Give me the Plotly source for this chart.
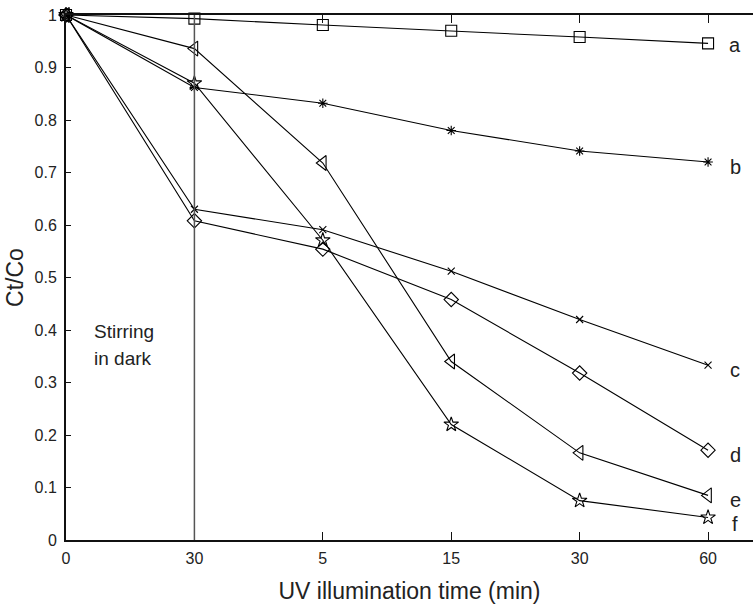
import plotly.graph_objects as go

x_pos = [0, 1, 2, 3, 4, 5]
x_labels = ["0", "30", "5", "15", "30", "60"]

a_vals = [1.0, 0.993, 0.981, 0.970, 0.958, 0.946]
b_vals = [1.0, 0.862, 0.832, 0.780, 0.741, 0.720]
c_vals = [1.0, 0.630, 0.591, 0.512, 0.420, 0.333]
d_vals = [1.0, 0.608, 0.554, 0.458, 0.318, 0.171]
e_vals = [1.0, 0.936, 0.718, 0.340, 0.166, 0.085]
f_vals = [1.0, 0.870, 0.571, 0.220, 0.075, 0.043]

series_names = ["a", "b", "c", "d", "e", "f"]
series_vals = [a_vals, b_vals, c_vals, d_vals, e_vals, f_vals]
series_symbols = ["square-open", "asterisk-open", "x-thin-open", "diamond-open",
                  "triangle-left-open", "star-open"]
series_sizes = [11, 8, 7, 11, 13, 11]
label_y = [0.943, 0.711, 0.324, 0.162, 0.076, 0.030]

FONT = "Liberation Sans, Arial"

fig = go.Figure()
for name, vals, sym, sz in zip(series_names, series_vals, series_symbols, series_sizes):
    fig.add_trace(go.Scatter(
        x=x_pos, y=vals, mode="lines+markers", name=name,
        line=dict(color="black", width=1.1),
        marker=dict(symbol=sym, size=sz, color="black", line=dict(color="black", width=1.1)),
        cliponaxis=False, showlegend=False,
    ))

for name, ly in zip(series_names, label_y):
    fig.add_annotation(x=5, y=ly, xref="x", yref="y", text=name, showarrow=False,
                       xshift=27, font=dict(family=FONT, size=20, color="#222222"))

# stirring-in-dark divider
fig.add_shape(type="line", x0=1, x1=1, y0=0, y1=1, xref="x", yref="y",
              line=dict(color="#555555", width=1.5))
fig.add_annotation(x=0.2, y=0.398, xref="x", yref="y", text="Stirring",
                   showarrow=False, xanchor="left",
                   font=dict(family=FONT, size=19, color="#222222"))
fig.add_annotation(x=0.2, y=0.345, xref="x", yref="y", text="in dark",
                   showarrow=False, xanchor="left",
                   font=dict(family=FONT, size=19, color="#222222"))

fig.update_layout(
    width=753, height=604,
    margin=dict(l=66, r=0, t=15, b=64),
    plot_bgcolor="white", paper_bgcolor="white",
    font=dict(family=FONT, size=16, color="#222222"),
)
fig.update_xaxes(
    range=[0, 5.35], tickvals=x_pos, ticktext=x_labels,
    showline=True, linecolor="#111111", linewidth=2, mirror="ticks",
    ticks="inside", ticklen=8, tickcolor="#111111", tickwidth=1,
    ticklabelstandoff=3,
    showgrid=False, zeroline=False,
    title=dict(text="UV illumination time (min)", font=dict(size=23), standoff=19),
)
fig.update_yaxes(
    range=[0, 1], tickvals=[i / 10 for i in range(11)],
    ticktext=["0", "0.1", "0.2", "0.3", "0.4", "0.5", "0.6", "0.7", "0.8", "0.9", "1"],
    showline=True, linecolor="#111111", linewidth=2,
    ticks="inside", ticklen=5, tickcolor="#111111", tickwidth=1,
    ticklabelstandoff=4,
    showgrid=False, zeroline=False,
    title=dict(text="Ct/Co", font=dict(size=23), standoff=4),
)

fig.write_html("out.html")
